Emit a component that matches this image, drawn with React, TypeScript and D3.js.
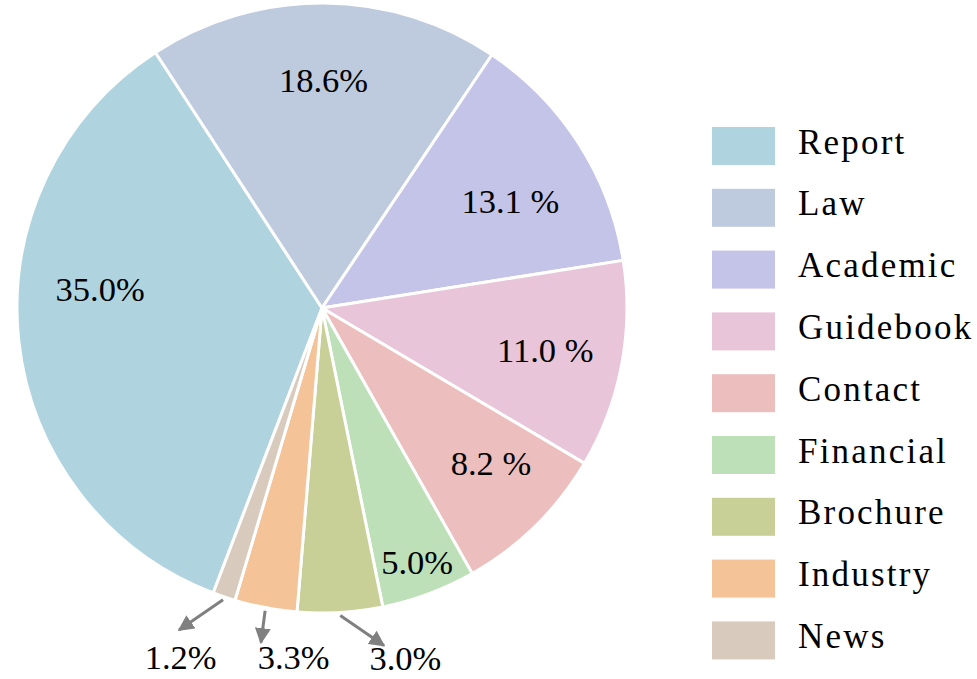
import React from "react";
import * as d3 from "d3";

const categories = ["Report", "Law", "Academic", "Guidebook", "Contact", "Financial", "Brochure", "Industry", "News"];
const shares = [35.0, 18.6, 13.1, 11.0, 8.3, 5.0, 4.5, 3.3, 1.2];
const pctLabels = ["35.0%", "18.6%", "13.1 %", "11.0 %", "8.2 %", "5.0%", "3.0%", "3.3%", "1.2%"];
const colors = ["#AFD4DF", "#BECADE", "#C4C4E8", "#E8C5D8", "#EDBEBE", "#BEE0B8", "#C8D098", "#F4C398", "#D8CBBE"];

// label placement: radius as fraction of pie radius, angle shift (deg) from slice middle
const labelRadius = [0.73, 0.745, 0.71, 0.745, 0.752, 0.89, 1.18, 1.15, 1.235];
const labelAngleShift = [11, 0, 3, 0, -3, 0, -10, -6, 3.3];
// arrows for small slices: tip radius fraction & angle shift; null = no arrow
const arrowTipRadius = [null, null, null, null, null, null, 1.125, 1.115, 1.155];
const arrowTipShift = [0, 0, 0, 0, 0, 0, -7, -0.3, 5.2];

const W = 977;
const H = 679;
const cx = 322;
const cy = 308;
const R = 305;
const deg = Math.PI / 180;
const startDeg = 200.9;

const FONT = "Liberation Serif";

function polar(r: number, aDeg: number): [number, number] {
  const a = aDeg * deg;
  return [cx + r * Math.sin(a), cy - r * Math.cos(a)];
}

export default function App() {
  const pie = d3
    .pie<number>()
    .sort(null)
    .value((d) => d)
    .startAngle(startDeg * deg)
    .endAngle((startDeg + 360) * deg);
  const arcs = pie(shares);
  const arcGen = d3.arc<d3.PieArcDatum<number>>().innerRadius(0).outerRadius(R);

  const legendX = 712;
  const legendY0 = 127;
  const legendStep = 61.8;

  return (
    <svg
      width={W}
      height={H}
      viewBox={`0 0 ${W} ${H}`}
      style={{ position: "absolute", left: 0, top: 0, background: "#fff" }}
    >
      <defs>
        <marker
          id="ah"
          viewBox="0 0 10 10"
          refX="9"
          refY="5"
          markerWidth="16"
          markerHeight="16"
          markerUnits="userSpaceOnUse"
          orient="auto"
        >
          <path d="M0,0 L10,5 L0,10 z" fill="#808080" />
        </marker>
      </defs>
      <g transform={`translate(${cx},${cy})`}>
        {arcs.map((a, i) => (
          <path key={i} d={arcGen(a) || ""} fill={colors[i]} stroke="#fff" strokeWidth={3} strokeLinejoin="round" />
        ))}
      </g>
      {arcs.map((a, i) => {
        const mid = ((a.startAngle + a.endAngle) / 2) / deg;
        const tipR = arrowTipRadius[i];
        if (tipR == null) return null;
        const [x1, y1] = polar(R * 1.01, mid);
        const [x2, y2] = polar(R * tipR, mid + arrowTipShift[i]);
        return (
          <line key={"ar" + i} x1={x1} y1={y1} x2={x2} y2={y2} stroke="#808080" strokeWidth={3} markerEnd="url(#ah)" />
        );
      })}
      {arcs.map((a, i) => {
        const mid = ((a.startAngle + a.endAngle) / 2) / deg;
        const [x, y] = polar(R * labelRadius[i], mid + labelAngleShift[i]);
        return (
          <text
            key={"lb" + i}
            x={x}
            y={y + 11.7}
            textAnchor="middle"
            style={{ fontFamily: FONT, fontSize: "34.5px" }}
            fill="#000"
          >
            {pctLabels[i]}
          </text>
        );
      })}
      {categories.map((c, i) => (
        <g key={"lg" + i} transform={`translate(${legendX},${legendY0 + i * legendStep})`}>
          <rect x={0} y={0} width={63} height={38} fill={colors[i]} />
          <text x={86} y={26.5} style={{ fontFamily: FONT, fontSize: "35px", letterSpacing: "2.2px" }} fill="#000">
            {c}
          </text>
        </g>
      ))}
    </svg>
  );
}
